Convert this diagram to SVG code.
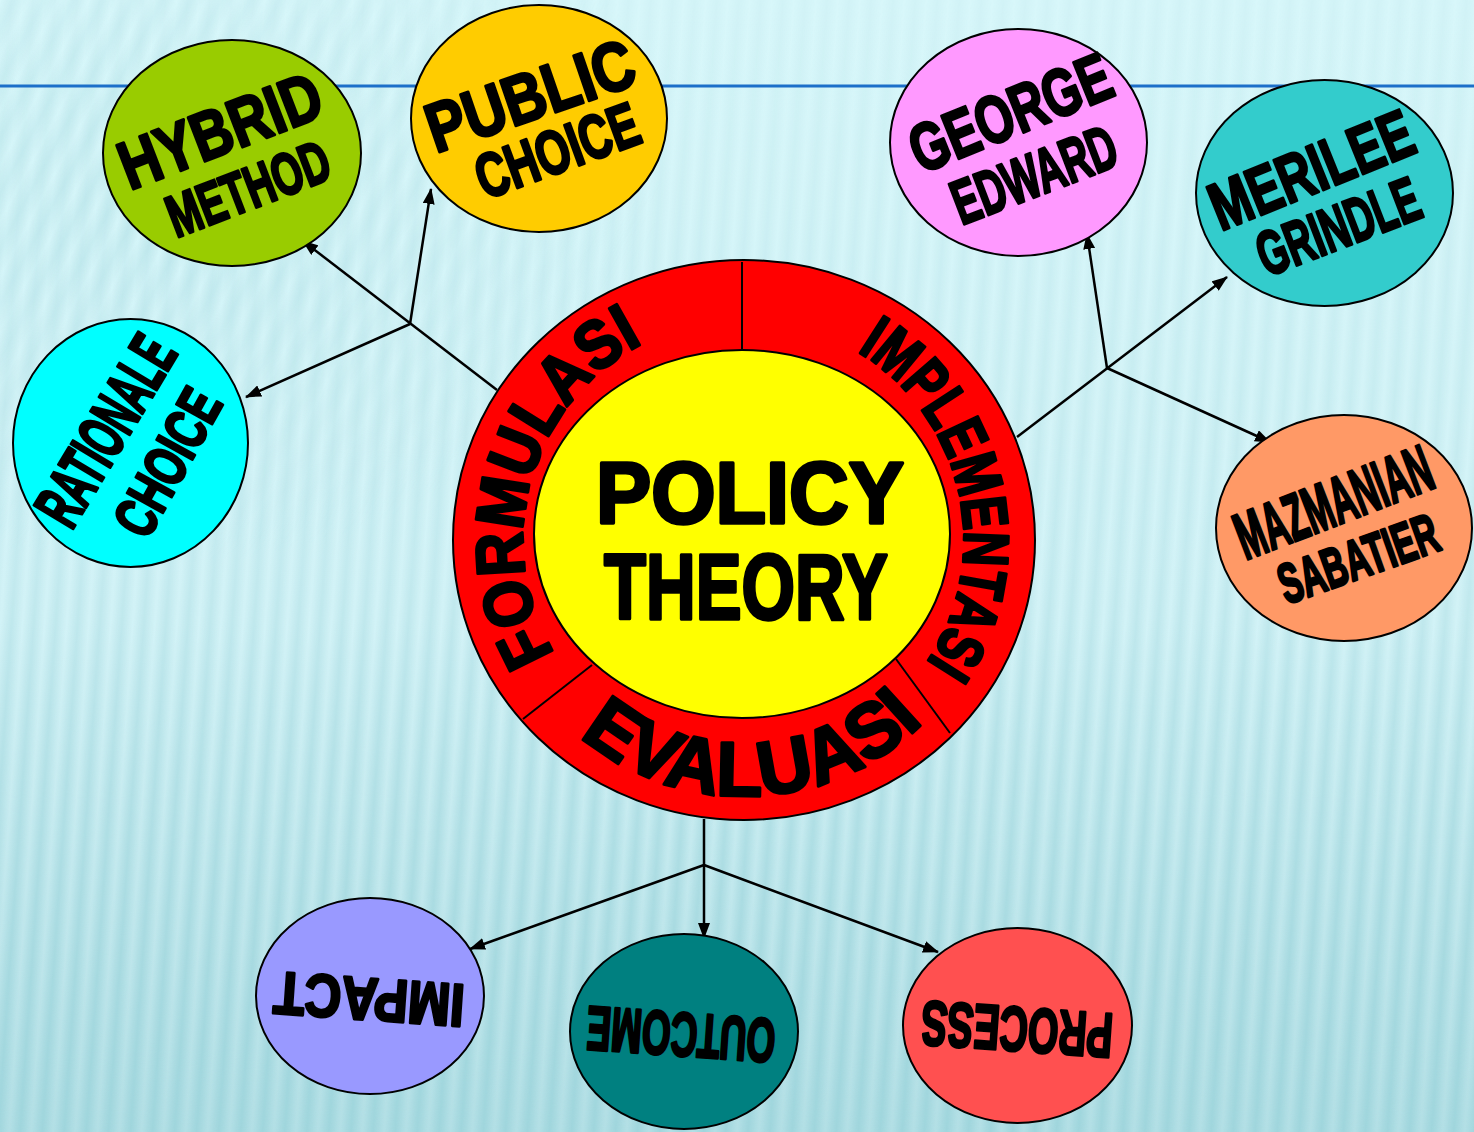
<svg xmlns="http://www.w3.org/2000/svg" width="1474" height="1132" viewBox="0 0 1474 1132">
<defs>
<style>
.t{font-family:"Liberation Sans",Arial,sans-serif;font-weight:bold;fill:#000;stroke:#000;stroke-width:3;stroke-linejoin:round;text-anchor:middle}
.tp{font-family:"Liberation Sans",Arial,sans-serif;font-weight:bold;fill:#000;stroke:#000;stroke-width:3;stroke-linejoin:round}
.big{stroke-width:3.5}
.node{stroke:#000;stroke-width:2}
.con{fill:none;stroke:#000;stroke-width:2.5}
.arr{marker-end:url(#ah)}
</style>
<marker id="ah" markerUnits="userSpaceOnUse" markerWidth="16" markerHeight="12" refX="15" refY="6" orient="auto">
<path d="M0,0 L16,6 L0,12 z" fill="#000"/>
</marker>
<linearGradient id="bgGrad" x1="0" y1="0" x2="0" y2="1">
<stop offset="0" stop-color="#d8f7fa"/>
<stop offset="0.55" stop-color="#d3f3f7"/>
<stop offset="1" stop-color="#b4e0e6"/>
</linearGradient>
<linearGradient id="stripeG" x1="0" y1="0" x2="1" y2="0">
<stop offset="0" stop-color="#9bd3da" stop-opacity="0"/>
<stop offset="0.5" stop-color="#9bd3da" stop-opacity="1"/>
<stop offset="1" stop-color="#9bd3da" stop-opacity="0"/>
</linearGradient>
<pattern id="stripes" width="22" height="200" patternUnits="userSpaceOnUse" patternTransform="rotate(4)">
<rect width="22" height="200" fill="url(#stripeG)"/>
</pattern>
<pattern id="stripes2" width="26" height="200" patternUnits="userSpaceOnUse" patternTransform="rotate(28)">
<rect width="26" height="200" fill="url(#stripeG)"/>
</pattern>
<linearGradient id="fadeG" x1="0" y1="0" x2="0" y2="1">
<stop offset="0" stop-color="#fff" stop-opacity="0.1"/>
<stop offset="0.5" stop-color="#fff" stop-opacity="0.3"/>
<stop offset="1" stop-color="#fff" stop-opacity="0.85"/>
</linearGradient>
<mask id="fade"><rect width="1474" height="1132" fill="url(#fadeG)"/></mask>
<radialGradient id="tlG" cx="0.1" cy="0.15" r="0.35">
<stop offset="0" stop-color="#fff" stop-opacity="0.3"/>
<stop offset="1" stop-color="#fff" stop-opacity="0"/>
</radialGradient>
<mask id="tl"><rect width="1474" height="1132" fill="url(#tlG)"/></mask>
<path id="pForm" d="M554.6,653.8 A221,221 0 0 1 643.7,343.1"/>
<path id="pImpl" d="M857.3,351.4 A220,220 0 0 1 926.4,663.0"/>
<path id="pEval" d="M579.4,736.1 A256,256 0 0 0 925.0,721.0"/>
</defs>

<g id="background">
<rect width="1474" height="1132" fill="url(#bgGrad)"/>
<rect width="1474" height="1132" fill="url(#stripes)" mask="url(#fade)"/>
<rect width="1474" height="1132" fill="url(#stripes2)" mask="url(#tl)"/>
<line x1="0" y1="86" x2="1474" y2="86" stroke="#1c6fc9" stroke-width="3"/>
</g>

<g id="connectors">
<path class="con arr" d="M497,390 L303,241"/>
<path class="con arr" d="M410,324 L431,189"/>
<path class="con arr" d="M410,324 L246,397"/>
<path class="con arr" d="M1017,437 L1227,277"/>
<path class="con arr" d="M1107,368 L1087,234"/>
<path class="con arr" d="M1107,368 L1270,442"/>
<path class="con arr" d="M704,819 L704,938"/>
<path class="con arr" d="M704,865 L470,949"/>
<path class="con arr" d="M704,865 L938,952"/>
</g>

<g id="policy-theory">
<ellipse class="node" cx="744" cy="540" rx="291" ry="280" fill="#ff0000"/>
<line x1="742" y1="262" x2="742" y2="350" stroke="#000" stroke-width="2"/>
<line x1="523" y1="719" x2="592" y2="665" stroke="#000" stroke-width="2"/>
<line x1="896" y1="659" x2="950" y2="733" stroke="#000" stroke-width="2"/>
<ellipse class="node" cx="742" cy="534" rx="208" ry="184" fill="#ffff00"/>
<text class="tp" font-size="68"><textPath href="#pForm" textLength="362" lengthAdjust="spacingAndGlyphs">FORMULASI</textPath></text>
<text class="tp" font-size="64"><textPath href="#pImpl" textLength="357" lengthAdjust="spacingAndGlyphs">IMPLEMENTASI</textPath></text>
<text class="tp" font-size="77"><textPath href="#pEval" textLength="378" lengthAdjust="spacingAndGlyphs">EVALUASI</textPath></text>
<text class="t big" x="750" y="523" font-size="88" textLength="308" lengthAdjust="spacingAndGlyphs">POLICY</text>
<text class="t big" x="746" y="619" font-size="93" textLength="284" lengthAdjust="spacingAndGlyphs">THEORY</text>
</g>

<g id="hybrid-method">
<ellipse class="node" cx="232" cy="153" rx="129" ry="113" fill="#99cc00"/>
<text class="t" transform="translate(220,130) rotate(-21)" y="24" font-size="68" textLength="212" lengthAdjust="spacingAndGlyphs">HYBRID</text>
<text class="t" transform="translate(248,188) rotate(-21)" y="21" font-size="59" textLength="170" lengthAdjust="spacingAndGlyphs">METHOD</text>
</g>

<g id="public-choice">
<ellipse class="node" cx="539" cy="118.5" rx="128" ry="113.5" fill="#ffcc00"/>
<text class="t" transform="translate(530,95) rotate(-19)" y="24.5" font-size="69" textLength="216" lengthAdjust="spacingAndGlyphs">PUBLIC</text>
<text class="t" transform="translate(557,150) rotate(-20)" y="22" font-size="62" textLength="170" lengthAdjust="spacingAndGlyphs">CHOICE</text>
</g>

<g id="rationale-choice">
<ellipse class="node" cx="130.5" cy="443" rx="117.5" ry="124" fill="#00ffff"/>
<text class="t" transform="translate(105,430) rotate(-59)" y="23.5" font-size="66" textLength="208" lengthAdjust="spacingAndGlyphs">RATIONALE</text>
<text class="t" transform="translate(167,462) rotate(-61)" y="21" font-size="59" textLength="158" lengthAdjust="spacingAndGlyphs">CHOICE</text>
</g>

<g id="george-edward">
<ellipse class="node" cx="1018.5" cy="142.5" rx="128.5" ry="113.5" fill="#ff99ff"/>
<text class="t" transform="translate(1010,112) rotate(-22)" y="24" font-size="67" textLength="212" lengthAdjust="spacingAndGlyphs">GEORGE</text>
<text class="t" transform="translate(1034,174) rotate(-21)" y="22" font-size="62" textLength="172" lengthAdjust="spacingAndGlyphs">EDWARD</text>
</g>

<g id="merilee-grindle">
<ellipse class="node" cx="1324.5" cy="193" rx="128.5" ry="113" fill="#33cccc"/>
<text class="t" transform="translate(1311,169) rotate(-22)" y="24" font-size="67" textLength="214" lengthAdjust="spacingAndGlyphs">MERILEE</text>
<text class="t" transform="translate(1338,226) rotate(-21)" y="22" font-size="62" textLength="170" lengthAdjust="spacingAndGlyphs">GRINDLE</text>
</g>

<g id="mazmanian-sabatier">
<ellipse class="node" cx="1344" cy="528" rx="128" ry="113" fill="#ff9966"/>
<text class="t" transform="translate(1333,501) rotate(-21)" y="24" font-size="66" textLength="206" lengthAdjust="spacingAndGlyphs">MAZMANIAN</text>
<text class="t" transform="translate(1358,558) rotate(-19.5)" y="20" font-size="56" textLength="166" lengthAdjust="spacingAndGlyphs">SABATIER</text>
</g>

<g id="impact">
<ellipse class="node" cx="370" cy="996" rx="114" ry="98" fill="#9999ff"/>
<text class="t" transform="translate(369,1000) rotate(184)" y="21.5" font-size="60" textLength="191" lengthAdjust="spacingAndGlyphs">IMPACT</text>
</g>

<g id="outcome">
<ellipse class="node" cx="684" cy="1031.5" rx="114" ry="97.5" fill="#008080"/>
<text class="t" transform="translate(681,1035) rotate(184)" y="22" font-size="62" textLength="189" lengthAdjust="spacingAndGlyphs">OUTCOME</text>
</g>

<g id="process">
<ellipse class="node" cx="1017.5" cy="1025.5" rx="114.5" ry="97.5" fill="#ff5050"/>
<text class="t" transform="translate(1017,1030) rotate(184)" y="22.5" font-size="63" textLength="192" lengthAdjust="spacingAndGlyphs">PROCESS</text>
</g>
</svg>
